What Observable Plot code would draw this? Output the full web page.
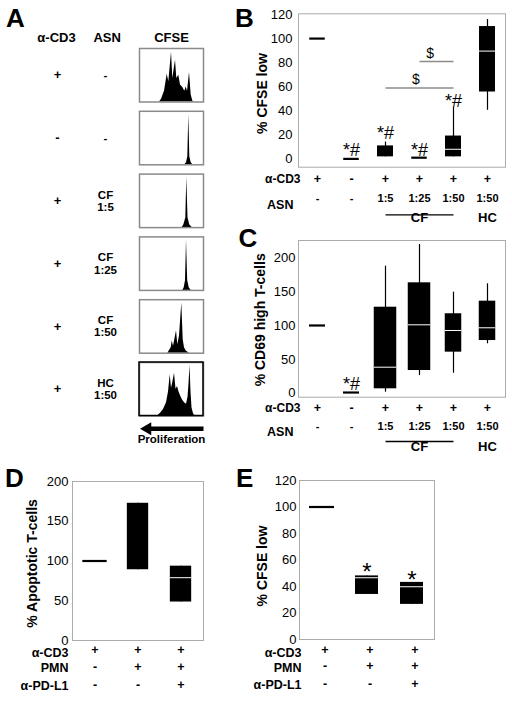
<!DOCTYPE html>
<html><head><meta charset="utf-8">
<script src="https://cdn.jsdelivr.net/npm/d3@7"></script>
<script src="https://cdn.jsdelivr.net/npm/@observablehq/plot@0.6"></script>
<style>
body{margin:0;background:#fff;}
#fig{position:relative;width:512px;height:701px;font-family:"Liberation Sans",Arial,sans-serif;overflow:hidden;}
.lbl{position:absolute;font-weight:bold;font-size:26px;line-height:1;color:#000;}
</style></head><body><div id="fig"></div>
<script>
const FONT = '"Liberation Sans", Arial, sans-serif';

// ---------------- Panel A (CFSE histograms) ----------------
const rowsA = ["r1", "r2", "r3", "r4", "r5", "r6"];
const cd3A = ["+", "-", "+", "+", "+", "+"];
const asnA = ["-", "-", "CF\n1:5", "CF\n1:25", "CF\n1:50", "HC\n1:50"];
const cfseRange = [0, 64];
const histR1 = [[20,0],[22,5],[25,20],[27.7,52],[29.3,38],[32,93],[33.3,44],[36,78],[37.3,44],[39.3,50],[41,32],[43.3,27],[45.3,20],[46.7,28],[48,20],[50,55],[51.7,13],[53.3,2],[54,0]];
const histR2 = [[45.3,0],[47,4],[48.3,15],[49.3,94],[50.3,15],[51.7,4],[53.3,0]];
const histR3 = [[42.7,0],[44.3,5],[46.3,18],[47.3,94],[48.5,18],[50.3,5],[52.7,0]];
const histR4 = [[43.3,0],[44.7,5],[46,18],[47,94],[48.2,18],[49.7,5],[51.7,0]];
const histR5 = [[28.3,0],[31.7,10],[32.7,23],[34,13],[35.3,25],[37,42],[38.3,16],[40,32],[42.3,94],[43.7,25],[45,10],[46.7,4],[50,0]];
const histR6 = [[18,0],[21,5],[24,12],[27,25],[29,45],[30.7,77],[32,52],[33,60],[35,80],[36.5,50],[38,55],[39.5,45],[41,38],[43,30],[45,25],[47,22],[48.5,35],[49.5,60],[50.5,95],[51.5,45],[52.5,15],[54,4],[55.5,0]];
const histsA = [histR1, histR2, histR3, histR4, histR5, histR6];

// ---------------- Panel B (% CFSE low) ----------------
const catsB = ["g1", "g2", "g3", "g4", "g5", "g6"];
const cd3B = ["+", "-", "+", "+", "+", "+"];
const asnB = ["-", "-", "1:5", "1:25", "1:50", "1:50"];
const loB  = [100, 0, 1.7, 1, 1.7, 40.4];
const q1B  = [100, 0, 1.7, 1, 1.7, 55.6];
const medB = [100, 0, 1.7, 1, 8, 89.6];
const q3B  = [100, 0, 10.8, 1, 19, 110];
const hiB  = [100, 0, 14, 1, 43, 115.8];
const starsB = [{cat: "g2", y: 7}, {cat: "g3", y: 21.6}, {cat: "g4", y: 7}, {cat: "g5", y: 47.8}];
const sigLinesB = [{from: "g3", to: "g5", y: 59}, {from: "g4", to: "g5", y: 81}];
const sigMarksB = [{cat: "g4", y: 66}, {cat: "g4", y: 87.4}];
const yTicksB = [0, 20, 40, 60, 80, 100, 120];

// ---------------- Panel C (% CD69 high T-cells) ----------------
const catsC = ["g1", "g2", "g3", "g4", "g5", "g6"];
const cd3C = ["+", "-", "+", "+", "+", "+"];
const asnC = ["-", "-", "1:5", "1:25", "1:50", "1:50"];
const loC  = [100, 1, 1.5, 26, 29.5, 73];
const q1C  = [100, 1, 6.5, 33.5, 60.6, 77.8];
const medC = [100, 1, 38.4, 101, 92.6, 96.6];
const q3C  = [100, 1, 127, 163, 117.3, 135.9];
const hiC  = [100, 1, 187.6, 219.6, 149.2, 161.6];
const starsC = [{cat: "g2", y: 13.3}];
const yTicksC = [0, 50, 100, 150, 200];

// ---------------- Panel D (% Apoptotic T-cells) ----------------
const catsD = ["k1", "k2", "k3"];
const cd3D = ["+", "+", "+"];
const pmnD = ["-", "+", "+"];
const pdl1D = ["-", "-", "+"];
const q1D  = [100, 89, 48.4];
const medD = [100, 89, 79];
const q3D  = [100, 172.6, 93.5];
const yTicksD = [0, 50, 100, 150, 200];

// ---------------- Panel E (% CFSE low) ----------------
const catsE = ["k1", "k2", "k3"];
const cd3E = ["+", "+", "+"];
const pmnE = ["-", "+", "+"];
const pdl1E = ["-", "-", "+"];
const q1E  = [100, 34, 26.5];
const medE = [100, 46.6, 39.8];
const q3E  = [100, 48, 43.1];
const starsE = [{cat: "k2", y: 50.8}, {cat: "k3", y: 44.9}];
const yTicksE = [0, 20, 40, 60, 80, 100, 120];

// ================= drawing =================
const fig = document.getElementById("fig");
function place(el, left, top) {
  el.style.position = "absolute";
  el.style.left = left + "px";
  el.style.top = top + "px";
  el.style.maxWidth = "none";
  fig.appendChild(el);
}
function letter(t, left, top) {
  const d = document.createElement("div");
  d.className = "lbl"; d.textContent = t;
  d.style.left = left + "px"; d.style.top = top + "px";
  fig.appendChild(d);
}
const baseStyle = {fontFamily: FONT, background: "transparent", color: "black", overflow: "visible"};

// ---- Panel A ----
const histTable = histsA.flatMap((h, i) => h.map(([x, y]) => ({row: rowsA[i], x, y})));
const rowTableA = rowsA.map((row, i) => ({row, cd3: cd3A[i], asn: asnA[i]}));
const lastRow = [rowsA[rowsA.length - 1]];
const plotA = Plot.plot({
  width: 230, height: 460,
  marginLeft: 139, marginRight: 27, marginTop: 38.7, marginBottom: 35.2,
  x: {domain: cfseRange, axis: null},
  y: {domain: [0, 100], axis: null},
  fy: {domain: rowsA, paddingInner: 0.148, paddingOuter: 0.148, round: false, axis: null},
  facet: {marginTop: 0, marginBottom: 0, marginLeft: 0, marginRight: 0},
  style: baseStyle,
  marks: [
    Plot.areaY(histTable, {x: "x", y: "y", fy: "row", fill: "black", curve: "linear"}),
    Plot.frame({stroke: "#8a8a8a", strokeWidth: 1.5}),
    Plot.rect(lastRow, {fy: d => d, x1: cfseRange[0], x2: cfseRange[1], y1: 0, y2: 100, fill: "none", stroke: "black", strokeWidth: 1.5}),
    Plot.text(rowTableA, {fy: "row", text: "cd3", frameAnchor: "left", textAnchor: "middle", dx: -82, fontWeight: "bold", fontSize: 13}),
    Plot.text(rowTableA, {fy: "row", text: "asn", frameAnchor: "left", textAnchor: "middle", dx: -34, fontWeight: "bold", fontSize: 11.5, lineHeight: 1.05}),
    Plot.text([rowsA[0]], {fy: d => d, text: () => "α-CD3", frameAnchor: "top-left", textAnchor: "middle", dx: -83, dy: -16, fontWeight: "bold", fontSize: 13}),
    Plot.text([rowsA[0]], {fy: d => d, text: () => "ASN", frameAnchor: "top-left", textAnchor: "middle", dx: -32.3, dy: -16, fontWeight: "bold", fontSize: 13}),
    Plot.text([rowsA[0]], {fy: d => d, text: () => "CFSE", frameAnchor: "top", dy: -16, fontWeight: "bold", fontSize: 13}),
    // proliferation arrow: thick shaft + filled head
    Plot.link(lastRow, {fy: d => d, x1: cfseRange[1], x2: cfseRange[0] + 9, y1: 0, y2: 0, dy: 12.8, stroke: "black", strokeWidth: 4.5}),
    Plot.dot(lastRow, {fy: d => d, x: cfseRange[0] + 8, y: 0, dy: 12.8, symbol: "triangle", rotate: -90, r: 4.8, fill: "black", stroke: "none"}),
    Plot.text(lastRow, {fy: d => d, text: () => "Proliferation", frameAnchor: "bottom", dy: 27.2, fontWeight: "bold", fontSize: 11.5})
  ]
});
place(plotA, 0, 0);

// ---- generic box panel ----
function boxPanel(o) {
  const n = o.cats.length;
  const band = (o.width - o.marginLeft - o.marginRight) / n;
  const lo = o.lo || o.q1, hi = o.hi || o.q3;
  const table = o.cats.map((cat, i) => ({cat, lo: lo[i], q1: o.q1[i], med: o.med[i], q3: o.q3[i], hi: hi[i]}));
  const boxW = typeof o.boxWidth === "function" ? o.boxWidth : () => o.boxWidth;
  const marks = [
    Plot.frame({stroke: "#ababab", strokeWidth: 1}),
    Plot.axisY({ticks: o.ticks, tickSize: 0, tickPadding: o.tickPadding, fontSize: 13, label: null}),
    Plot.ruleX(table.filter(d => d.hi > d.lo), {x: "cat", y1: "lo", y2: "hi", stroke: "black", strokeWidth: 1.2}),
    ...table.filter(d => d.q3 > d.q1).map(d => {
      const ins = (band - boxW(d.cat)) / 2;
      return Plot.barY([d], {x: "cat", y1: "q1", y2: "q3", fill: "black", insetLeft: ins, insetRight: ins});
    }),
    ...table.filter(d => d.q3 > d.q1 && d.med > d.q1 && d.med < d.q3).map(d => {
      const ins = (band - boxW(d.cat)) / 2;
      return Plot.tickY([d], {x: "cat", y: "med", stroke: "white", strokeWidth: 1, insetLeft: ins, insetRight: ins});
    }),
    Plot.tickY(table.filter(d => d.q3 === d.q1), {x: "cat", y: "med", stroke: "black", strokeWidth: 2.2, insetLeft: (band - o.lineWidth) / 2, insetRight: (band - o.lineWidth) / 2}),
    Plot.text([o.title], {frameAnchor: "left", textAnchor: "middle", lineAnchor: "middle", rotate: -90, dx: o.titleDx, dy: o.titleDy, fontWeight: "bold", fontSize: 14})
  ];
  for (const r of o.rows) {
    marks.push(Plot.text(o.cats, {x: d => d, text: (d, i) => r.values[i], frameAnchor: "bottom", textAnchor: "middle", dy: r.dy, dx: r.valueDx || 0, fontWeight: "bold", fontSize: r.fontSize}));
    marks.push(Plot.text([r.name], {frameAnchor: "bottom-left", textAnchor: "end", dx: r.nameDx, dy: r.nameDy, fontWeight: "bold", fontSize: r.nameSize}));
  }
  if (o.extra) marks.push(...o.extra);
  return Plot.plot({
    width: o.width, height: o.height,
    marginLeft: o.marginLeft, marginRight: o.marginRight, marginTop: o.marginTop, marginBottom: o.marginBottom,
    x: {type: "band", domain: o.cats, padding: 0, axis: null},
    y: {domain: o.yDomain},
    style: baseStyle,
    marks
  });
}

// ---- Panel B ----
const plotB = boxPanel({
  cats: catsB, lo: loB, q1: q1B, med: medB, q3: q3B, hi: hiB,
  width: 282, height: 230, marginLeft: 68, marginRight: 7, marginTop: 13.3, marginBottom: 63.3,
  yDomain: [-6.9, 120.6], ticks: yTicksB, tickPadding: 6,
  boxWidth: 16.5, lineWidth: 16,
  title: "% CFSE low", titleDx: -36, titleDy: 3,
  rows: [
    {name: "α-CD3", values: cd3B, dy: 16, nameDy: 16, nameDx: 2, fontSize: 12.5, nameSize: 12},
    {name: "ASN", values: asnB, dy: 35, nameDy: 41.6, nameDx: -5, fontSize: 11, nameSize: 12.5}
  ],
  extra: [
    Plot.link([{from: "g3", to: "g5"}], {x1: "from", x2: "to", y1: () => -6.9, y2: () => -6.9, dy: 47.6, stroke: "black", strokeWidth: 1.3}),
    Plot.text([{at: "g4", t: "CF"}, {at: "g6", t: "HC"}], {x: "at", text: "t", frameAnchor: "bottom", dy: 55, fontWeight: "bold", fontSize: 13}),
    Plot.link(sigLinesB, {x1: "from", x2: "to", y1: "y", y2: "y", stroke: "#8c8c8c", strokeWidth: 1.5}),
    Plot.text(sigMarksB.slice(0, 1), {x: "cat", y: "y", text: () => "$", dx: -3.6, fontSize: 14}),
    Plot.text(sigMarksB.slice(1), {x: "cat", y: "y", text: () => "$", dx: 10.7, fontSize: 14}),
    Plot.text(starsB, {x: "cat", y: "y", text: () => "*#", fontSize: 18})
  ]
});
place(plotB, 230, 0);

// ---- Panel C ----
const plotC = boxPanel({
  cats: catsC, lo: loC, q1: q1C, med: medC, q3: q3C, hi: hiC,
  width: 282, height: 240, marginLeft: 68, marginRight: 7, marginTop: 20, marginBottom: 63.3,
  yDomain: [-5.9, 225.5], ticks: yTicksC, tickPadding: 3,
  boxWidth: c => (c === "g3" || c === "g4") ? 23 : 17, lineWidth: 16.5,
  title: "% CD69 high T-cells", titleDx: -38, titleDy: 1,
  rows: [
    {name: "α-CD3", values: cd3C, dy: 15, nameDy: 15, nameDx: 2, fontSize: 12.5, nameSize: 12},
    {name: "ASN", values: asnC, dy: 32.6, nameDy: 38.3, nameDx: -5, fontSize: 11, nameSize: 12.5}
  ],
  extra: [
    Plot.link([{from: "g3", to: "g5"}], {x1: "from", x2: "to", y1: () => -5.9, y2: () => -5.9, dy: 44.3, stroke: "black", strokeWidth: 1.3}),
    Plot.text([{at: "g4", t: "CF"}, {at: "g6", t: "HC"}], {x: "at", text: "t", frameAnchor: "bottom", dy: 53.3, fontWeight: "bold", fontSize: 13}),
    Plot.text(starsC, {x: "cat", y: "y", text: () => "*#", fontSize: 18})
  ]
});
place(plotC, 230, 220);

// ---- Panel D ----
const plotD = boxPanel({
  cats: catsD, q1: q1D, med: medD, q3: q3D,
  width: 256, height: 241, marginLeft: 72, marginRight: 53, marginTop: 21, marginBottom: 61,
  yDomain: [0, 200], ticks: yTicksD, tickPadding: 4,
  boxWidth: 22, lineWidth: 25,
  title: "% Apoptotic T-cells", titleDx: -40, titleDy: 2.5,
  rows: [
    {name: "α-CD3", values: cd3D, dy: 13.5, nameDy: 16.7, nameDx: -4, fontSize: 12.5, nameSize: 12.5},
    {name: "PMN", values: pmnD, dy: 30, nameDy: 31, nameDx: -4, fontSize: 12.5, nameSize: 12.5},
    {name: "α-PD-L1", values: pdl1D, dy: 48.5, nameDy: 49.3, nameDx: -4, fontSize: 12.5, nameSize: 12.5}
  ]
});
place(plotD, 0, 460);

// ---- Panel E ----
const plotE = boxPanel({
  cats: catsE, q1: q1E, med: medE, q3: q3E,
  width: 256, height: 241, marginLeft: 43, marginRight: 78, marginTop: 20, marginBottom: 62,
  yDomain: [0, 120], ticks: yTicksE, tickPadding: 3,
  boxWidth: 23, lineWidth: 25,
  title: "% CFSE low", titleDx: -37, titleDy: 6,
  rows: [
    {name: "α-CD3", values: cd3E, dy: 14, nameDy: 17.8, nameDx: 2, valueDx: 3, fontSize: 12.5, nameSize: 12.5},
    {name: "PMN", values: pmnE, dy: 30.5, nameDy: 32, nameDx: 2, valueDx: 3, fontSize: 12.5, nameSize: 12.5},
    {name: "α-PD-L1", values: pdl1E, dy: 48.5, nameDy: 49.7, nameDx: 2, valueDx: 3, fontSize: 12.5, nameSize: 12.5}
  ],
  extra: [
    Plot.text(starsE, {x: "cat", y: "y", text: () => "*", fontSize: 24})
  ]
});
place(plotE, 256, 460);

// panel letters
letter("A", 6, 5);
letter("B", 235, 4.5);
letter("C", 238.5, 225);
letter("D", 5, 465);
letter("E", 236, 465);
</script>
</body></html>
